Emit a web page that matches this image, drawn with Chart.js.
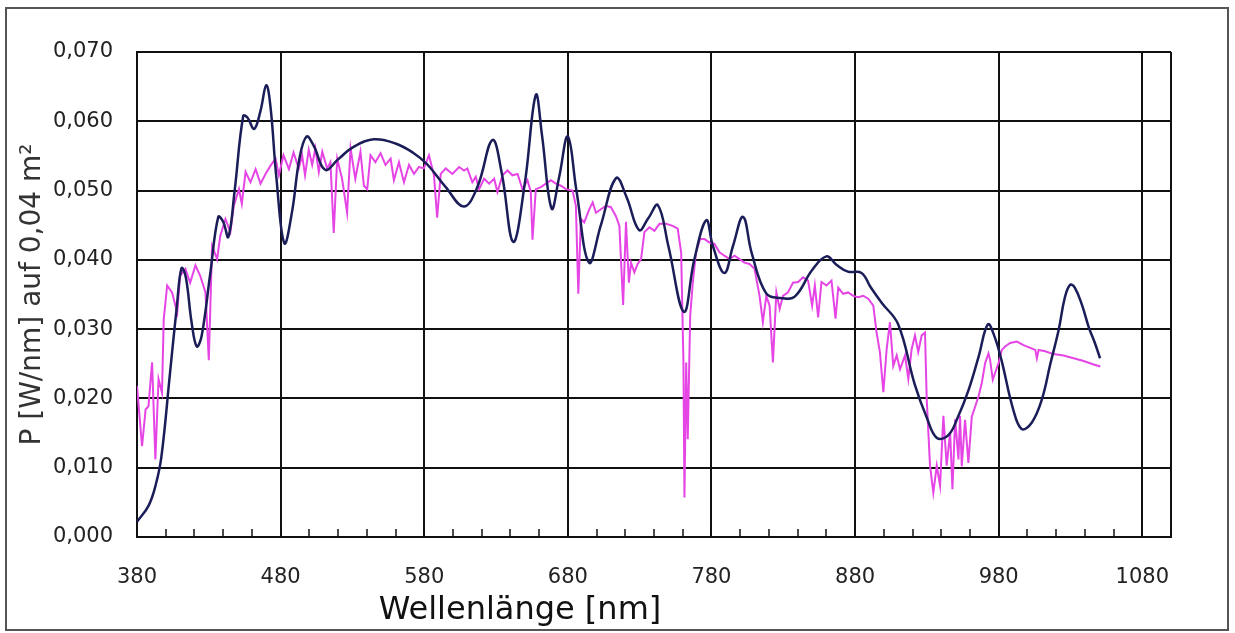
<!DOCTYPE html>
<html>
<head>
<meta charset="utf-8">
<script src="https://cdn.jsdelivr.net/npm/chart.js@4.4.1/dist/chart.umd.min.js"></script>
<style>
  html, body { margin: 0; padding: 0; background: #fff; }
  #frame { position: absolute; left: 5px; top: 7px; width: 1220px; height: 620px; border: 2px solid #555; }
  #wrap { position: absolute; left: 0; top: 0; width: 1235px; height: 633px; }
</style>
</head>
<body>
<div id="frame"></div>
<div id="wrap"><canvas id="c" width="1235" height="633"></canvas></div>
<script>
// Solar spectrum vs. measured lamp spectrum, P [W/nm] on 0.04 m2
const X_TICKS = [380, 480, 580, 680, 780, 880, 980, 1080];
const Y_TICKS = [0, 0.01, 0.02, 0.03, 0.04, 0.05, 0.06, 0.07];
const X_TITLE = "Wellenlänge [nm]";
const Y_TITLE = "P [W/nm] auf 0,04 m²";

// smooth curve (dark blue)
const navyNm = [380, 388, 393, 397, 403, 407.7, 411, 414, 418, 421.6, 425, 431, 436.6, 440, 443.6, 448, 454, 457, 461.6, 466, 470, 473, 477, 482.6,
  488, 493, 498, 503, 511, 520, 530, 544.7, 560, 572, 582, 595, 607.5, 617, 627.5, 634, 642, 650, 657.7, 662, 668.7, 674, 680, 686, 694.7,
  703, 713.6, 721, 729.6, 736, 742.7, 750, 760.8, 768, 776.4, 781, 789, 795, 802, 808, 818, 828, 838, 850, 860, 867, 875, 884.5, 891, 898.5,
  910, 921.6, 930, 937, 945, 952, 959, 966, 972.5, 977, 982, 990, 996, 1003, 1010, 1016, 1021.8, 1026, 1029.7, 1033, 1038, 1042.7, 1047, 1050.6];
const navyP = [0.0022, 0.0045, 0.0075, 0.0116, 0.0237, 0.0332, 0.0388, 0.0375, 0.031, 0.0275, 0.029, 0.038, 0.0462, 0.0455, 0.0433, 0.05, 0.0608,
  0.0605, 0.0589, 0.0615, 0.0652, 0.062, 0.052, 0.0424, 0.047, 0.0545, 0.0578, 0.0565, 0.053, 0.0545, 0.0562, 0.0574, 0.0568, 0.0555, 0.0538,
  0.0505, 0.0477, 0.0505, 0.0573, 0.0525, 0.0426, 0.051, 0.0638, 0.058, 0.0474, 0.052, 0.0578, 0.05, 0.0396, 0.045, 0.0518, 0.049, 0.0443,
  0.046, 0.0479, 0.042, 0.0325, 0.04, 0.0457, 0.042, 0.0381, 0.042, 0.0462, 0.041, 0.0352, 0.0345, 0.0347, 0.0385, 0.0405, 0.0393, 0.0383,
  0.0381, 0.036, 0.0338, 0.0307, 0.022, 0.0172, 0.0143, 0.0147, 0.0175, 0.0212, 0.026, 0.0307, 0.029, 0.0255, 0.0185, 0.0156, 0.0165, 0.0198,
  0.025, 0.0299, 0.0345, 0.0364, 0.036, 0.0335, 0.0303, 0.028, 0.0258];

// measured spectrum (magenta)
const magentaNm = [380, 383.5, 386, 388, 390.5, 392.8, 395, 397.4, 398.6, 401, 404.4, 408, 410, 413.7, 417, 420.7, 424, 427.7, 430, 432.3, 435.8,
  438, 441.6, 445, 447.4, 451, 453, 455.6, 459, 462.6, 466, 469.5, 473, 476.5, 478.8, 482, 485.8, 489, 492.6, 495, 497, 499.6, 502, 504.2,
  506.6, 509, 512.4, 514.7, 517, 519.4, 522.8, 526.3, 528.7, 532, 535.6, 538, 540.3, 542.6, 546, 549.6, 553, 556.6, 558.9, 562.4, 565.9,
  569.4, 572.9, 576.3, 579.8, 583.3, 586.8, 589, 591.5, 595, 599.6, 604.3, 607.7, 610, 613.5, 615.9, 618.2, 621.7, 625.2, 628.7, 631, 634.5,
  638, 641.4, 645, 648.4, 651.9, 654.2, 655.4, 657.7, 661.2, 664.7, 668.2, 671.7, 675.2, 678.7, 683.3, 685.6, 687.3, 689.1, 691.4, 694.9,
  697.3, 699.6, 703, 706.6, 710, 713.5, 715.9, 718.5, 720.5, 722.5, 724, 726.3, 728.6, 731, 733.3, 736.8, 740.3, 743.8, 748.4, 753, 756.5,
  758.9, 760.5, 761.2, 762.4, 763.5, 765.2, 767, 769.3, 772.1, 775.2, 778.6, 782.1, 785.6, 789, 792.6, 796.1, 799.6, 803, 806.5, 810, 813.5,
  815.8, 818.2, 820.5, 822.8, 825.2, 827.5, 829.8, 833.3, 836.8, 840.4, 843.8, 847.3, 850.1, 852, 854.3, 856.6, 860.1, 863.6, 866.4, 868.3,
  871.7, 875.2, 878.7, 882.2, 885.7, 889.2, 892.7, 895, 897.3, 899.7, 902, 904.3, 906.6, 909, 911.3, 914.8, 917.1, 919.4, 921.7, 924, 926.4,
  928.7, 929.9, 932.2, 934.5, 936.9, 939.2, 941.5, 943.8, 946.2, 947.8, 949.7, 952, 953.1, 954.3, 956.6, 958.9, 961.3, 963.6, 966, 968.2,
  970.6, 972.9, 974, 975.9, 978.2, 979.9, 982.2, 984.5, 988, 992.7, 997.3, 1002, 1005.5, 1006.6, 1007.8, 1012.4, 1018.2, 1025.2, 1032.2,
  1039.2, 1046.1, 1050.8];
const magentaP = [0.0218, 0.0131, 0.0184, 0.0189, 0.0252, 0.0112, 0.0228, 0.0208, 0.0314, 0.0363, 0.0353, 0.0324, 0.0377, 0.0387, 0.0367, 0.0392,
  0.0377, 0.0353, 0.0255, 0.042, 0.0401, 0.0435, 0.0459, 0.044, 0.0478, 0.0502, 0.0481, 0.0527, 0.0512, 0.0531, 0.051, 0.0524, 0.0536, 0.0546,
  0.0522, 0.0551, 0.0531, 0.0555, 0.0532, 0.0551, 0.0522, 0.0559, 0.0537, 0.0561, 0.0527, 0.0556, 0.0532, 0.0541, 0.0439, 0.0546, 0.0517,
  0.0468, 0.0561, 0.0517, 0.0556, 0.0507, 0.0502, 0.0551, 0.0541, 0.0554, 0.0537, 0.0546, 0.0515, 0.0541, 0.0512, 0.0537, 0.0524, 0.0534,
  0.0532, 0.0551, 0.0522, 0.0461, 0.0524, 0.0532, 0.0524, 0.0534, 0.0529, 0.0532, 0.0512, 0.052, 0.0502, 0.0517, 0.051, 0.0517, 0.0498,
  0.0522, 0.0529, 0.0522, 0.0524, 0.0502, 0.0515, 0.0498, 0.0429, 0.0502, 0.0505, 0.051, 0.0515, 0.051, 0.0507, 0.0502, 0.05, 0.0478, 0.0351,
  0.0459, 0.0454, 0.0473, 0.0483, 0.0468, 0.0473, 0.0478, 0.0476, 0.0463, 0.0449, 0.0335, 0.0455, 0.0367, 0.0396, 0.0382, 0.0394, 0.0401,
  0.044, 0.0447, 0.0442, 0.0452, 0.0452, 0.0449, 0.0445, 0.0411, 0.0252, 0.0057, 0.0252, 0.0141, 0.0319, 0.0367, 0.0411, 0.043, 0.043, 0.0425,
  0.0423, 0.0411, 0.0406, 0.0401, 0.0406, 0.0401, 0.0396, 0.0394, 0.0387, 0.0348, 0.031, 0.0348, 0.0334, 0.0252, 0.0353, 0.0329, 0.0348,
  0.0353, 0.0367, 0.0368, 0.0375, 0.037, 0.0334, 0.0363, 0.0317, 0.0368, 0.0363, 0.037, 0.0315, 0.036, 0.0351, 0.0353, 0.0348, 0.0346,
  0.0348, 0.0344, 0.0334, 0.0295, 0.0267, 0.0209, 0.0271, 0.031, 0.0247, 0.0262, 0.0242, 0.0262, 0.0228, 0.0271, 0.0291, 0.0267, 0.0291,
  0.0295, 0.0199, 0.0103, 0.0064, 0.0103, 0.0074, 0.0175, 0.0103, 0.0151, 0.0069, 0.017, 0.0112, 0.0175, 0.0102, 0.0169, 0.0107, 0.0174,
  0.0188, 0.0203, 0.0222, 0.0251, 0.0265, 0.0256, 0.0227, 0.0241, 0.0251, 0.027, 0.0275, 0.028, 0.0282, 0.0277, 0.0273, 0.027, 0.0258, 0.027,
  0.0268, 0.0264, 0.0262, 0.0258, 0.0254, 0.0249, 0.0246];

const pts = (xs, ys) => xs.map((x, i) => ({ x, y: ys[i] }));
const LABEL_FONT = { family: "DejaVu Sans", size: 21 };

// x-axis title sits left of centre in the original, so draw it ourselves under the axis
const xTitle = {
  id: "xTitle",
  afterDraw(chart) {
    const { ctx, scales: { x } } = chart;
    ctx.save();
    ctx.font = "32px 'DejaVu Sans'";
    ctx.fillStyle = "#111";
    ctx.textAlign = "center";
    ctx.textBaseline = "middle";
    ctx.fillText(X_TITLE, 520, x.bottom - 22);
    ctx.restore();
  }
};

new Chart(document.getElementById("c").getContext("2d"), {
  type: "line",
  data: {
    datasets: [
      { label: "navy", data: pts(navyNm, navyP), borderColor: "#1a1d58", borderWidth: 2.5, pointRadius: 0, tension: 0.4, fill: false },
      { label: "magenta", data: pts(magentaNm, magentaP), borderColor: "#e645e6", borderWidth: 2, pointRadius: 0, tension: 0, fill: false }
    ]
  },
  options: {
    responsive: false, animation: false, events: [],
    layout: { padding: { left: 0, top: 52, right: 64, bottom: 0 } },
    plugins: { legend: { display: false }, tooltip: { enabled: false } },
    scales: {
      x: {
        type: "linear", min: 380, max: 1100,
        afterBuildTicks: s => { const t = []; for (let v = 380; v <= 1100; v += 20) t.push({ value: v }); s.ticks = t; },
        afterFit: s => { s.height = 96; },
        ticks: {
          color: "#222", font: LABEL_FONT, padding: 36, maxRotation: 0, autoSkip: false,
          callback: v => (X_TICKS.includes(v) ? String(v) : "")
        },
        grid: {
          color: c => (c.tick && (X_TICKS.includes(c.tick.value) || c.tick.value === 1100) ? "#111" : "rgba(0,0,0,0)"),
          lineWidth: 2, tickLength: -8, tickColor: "#111", tickWidth: 1.5
        },
        border: { color: "#111", width: 2 }
      },
      y: {
        min: 0, max: 0.07,
        afterBuildTicks: s => { s.ticks = Y_TICKS.map(v => ({ value: v })); },
        afterFit: s => { s.width = 137; },
        ticks: { color: "#222", font: LABEL_FONT, padding: 24, callback: v => v.toFixed(3).replace(".", ",") },
        grid: { color: "#111", lineWidth: 2, drawTicks: false },
        border: { color: "#111", width: 2 },
        title: { display: true, text: Y_TITLE, color: "#333", font: { family: "DejaVu Sans", size: 28 }, padding: { top: 16, bottom: 0 } }
      }
    }
  },
  plugins: [xTitle]
});
</script>
</body>
</html>
